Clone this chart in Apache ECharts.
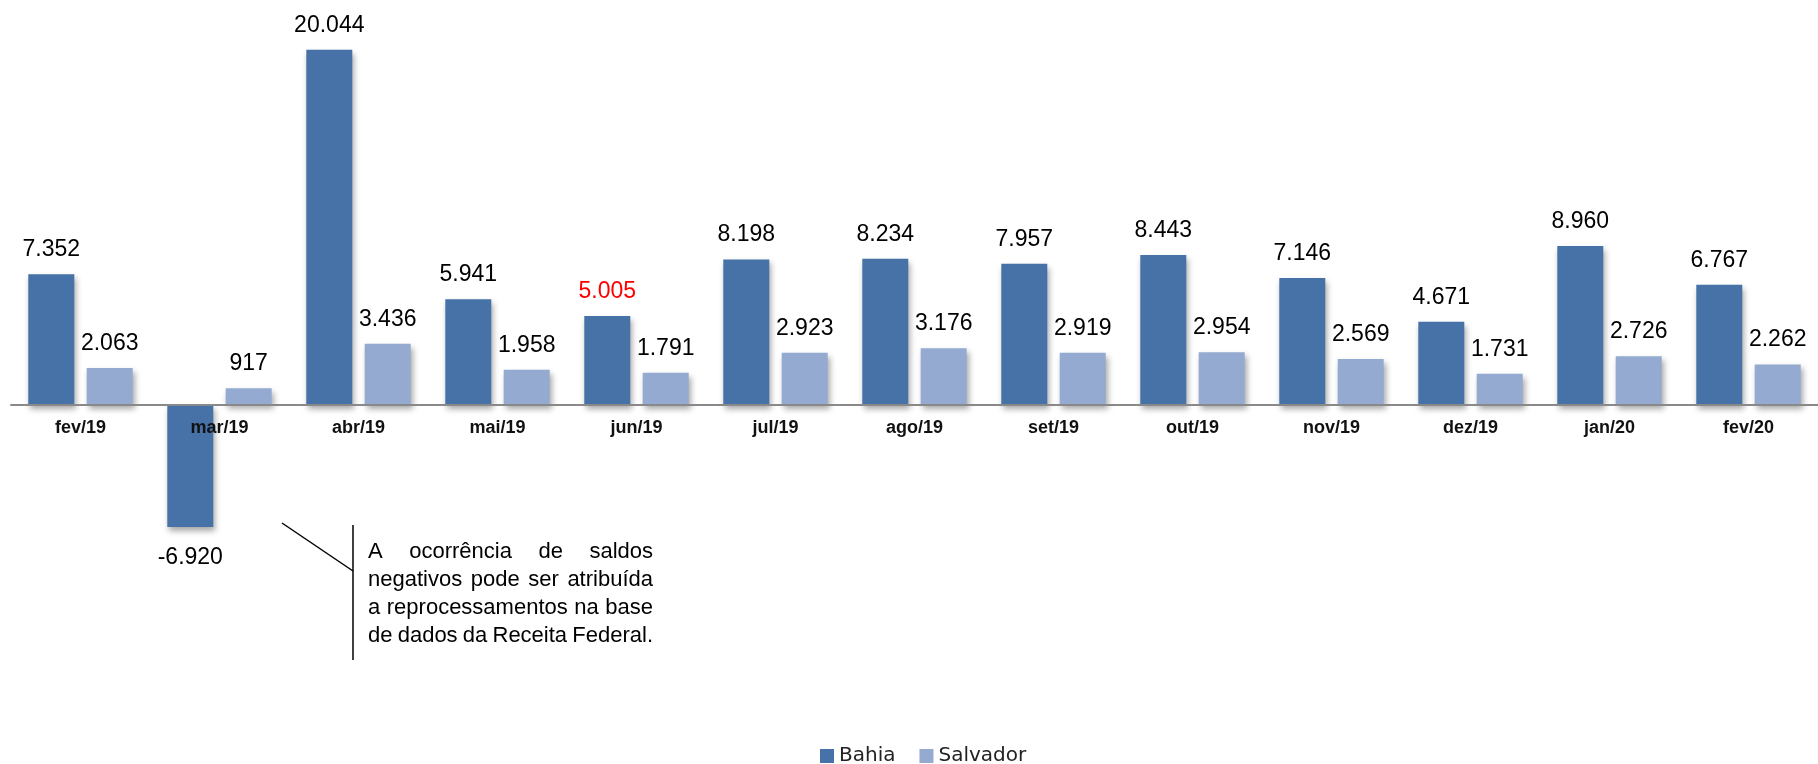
<!DOCTYPE html>
<html>
<head>
<meta charset="utf-8">
<script src="https://cdn.jsdelivr.net/npm/echarts@6/dist/echarts.min.js"></script>
<style>
  html, body { margin: 0; padding: 0; background: #fff; }
  #chart { width: 1818px; height: 764px; }
</style>
</head>
<body>
<div id="chart"></div>
<script>
// dados
var meses = ['fev/19', 'mar/19', 'abr/19', 'mai/19', 'jun/19', 'jul/19', 'ago/19', 'set/19', 'out/19', 'nov/19', 'dez/19', 'jan/20', 'fev/20'];
var bahia = [7352, -6920, 20044, 5941, 5005, 8198, 8234, 7957, 8443, 7146, 4671, 8960, 6767];
var salvador = [2063, 917, 3436, 1958, 1791, 2923, 3176, 2919, 2954, 2569, 1731, 2726, 2262];
var destaqueBahia = ['jun/19']; // rótulo em vermelho
var nota = [
    'A ocorrência de saldos',
    'negativos pode ser atribuída',
    'a reprocessamentos na base',
    'de dados da Receita Federal.'
];

function fmt(v) {
    var s = String(Math.abs(v)).replace(/\B(?=(\d{3})+(?!\d))/g, '.');
    return (v < 0 ? '-' : '') + s;
}

function barData(values, highlight) {
    return values.map(function (v, i) {
        var item = {
            value: v,
            label: { position: v < 0 ? 'bottom' : 'top', distance: v < 0 ? 19 : 13 }
        };
        if (highlight && highlight.indexOf(meses[i]) >= 0) {
            item.label.color = '#ff0000';
        }
        return item;
    });
}

// texto justificado da nota
function notaGraphic() {
    var ctx = document.createElement('canvas').getContext('2d');
    var font = '22px "Liberation Sans"';
    ctx.font = font;
    var left = 368, right = 653, base = 559, step = 28;
    var els = [
        { type: 'line', shape: { x1: 282, y1: 523, x2: 353, y2: 571 }, style: { stroke: '#000', lineWidth: 1.5 } },
        { type: 'line', shape: { x1: 353, y1: 525, x2: 353, y2: 660 }, style: { stroke: '#000', lineWidth: 1.5 } }
    ];
    nota.forEach(function (linha, li) {
        var words = linha.split(' ');
        var widths = words.map(function (w) { return ctx.measureText(w).width; });
        var total = widths.reduce(function (a, b) { return a + b; }, 0);
        var gap = (right - left - total) / (words.length - 1);
        var x = left;
        words.forEach(function (w, wi) {
            els.push({
                type: 'text',
                x: x,
                y: base + li * step - 7,
                style: { text: w, font: font, fill: '#000', align: 'left', verticalAlign: 'middle' }
            });
            x += widths[wi] + gap;
        });
    });
    return els;
}

var labelStyle = {
    show: true,
    fontFamily: 'Liberation Sans',
    fontSize: 23,
    color: '#000',
    formatter: function (p) { return fmt(p.value); }
};

var shadow = {
    shadowColor: 'rgba(0, 0, 0, 0.35)',
    shadowBlur: 6,
    shadowOffsetX: 2,
    shadowOffsetY: 4
};

var option = {
    animation: false,
    backgroundColor: '#fff',
    // a base do grid fica na linha do zero; a barra negativa passa abaixo (clip: false)
    grid: { left: 11, top: 15.1, width: 1816, height: 389.4 },
    legend: {
        left: 815,
        top: 741,
        itemWidth: 14,
        itemHeight: 14,
        itemGap: 24,
        icon: 'rect',
        textStyle: { fontFamily: 'DejaVu Sans', fontSize: 20, color: '#222' },
        data: ['Bahia', 'Salvador']
    },
    xAxis: {
        type: 'category',
        data: meses,
        z: 10,
        axisLine: { lineStyle: { color: '#898989', width: 2 } },
        axisTick: { show: false },
        axisLabel: {
            margin: 15,
            fontFamily: 'Liberation Sans',
            fontWeight: 'bold',
            fontSize: 18,
            color: '#111'
        }
    },
    yAxis: {
        type: 'value',
        min: 0,
        max: 22000,
        show: false,
        splitLine: { show: false }
    },
    series: [{
        name: 'Bahia',
        type: 'bar',
        clip: false,
        barWidth: 46,
        barGap: '27%',
        itemStyle: Object.assign({ color: '#4672a7' }, shadow),
        label: labelStyle,
        data: barData(bahia, destaqueBahia)
    }, {
        name: 'Salvador',
        type: 'bar',
        clip: false,
        barWidth: 46,
        barGap: '27%',
        itemStyle: Object.assign({ color: '#95aad0' }, shadow),
        label: labelStyle,
        data: barData(salvador)
    }],
    graphic: notaGraphic()
};

var myChart = echarts.init(document.querySelector('#chart'));
myChart.setOption(option);
</script>
</body>
</html>
